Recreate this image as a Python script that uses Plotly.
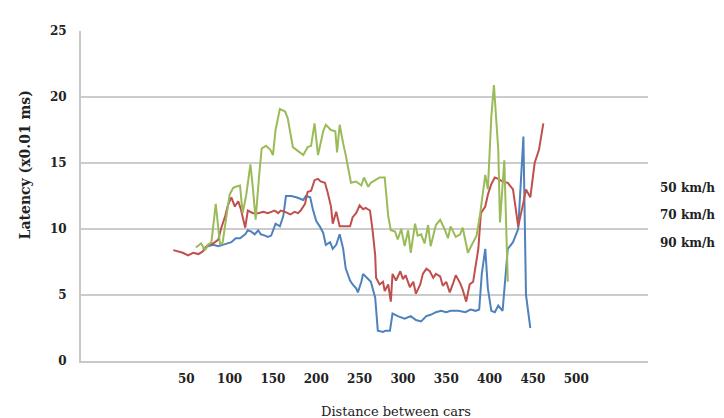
import plotly.graph_objects as go

# ---- data ----
x_ticks = [50, 100, 150, 200, 250, 300, 350, 400, 450, 500]
y_ticks = [0, 5, 10, 15, 20, 25]
legend_labels = ["50 km/h", "70 km/h", "90 km/h"]

blue_x = [69, 75, 81, 87, 92, 98, 102, 107, 112, 118, 121, 125, 129, 133, 136, 141, 144, 148, 153, 158,
          162, 165, 171, 177, 181, 185, 188, 193, 196, 200, 204, 208, 211, 216, 219, 223, 227, 231, 234,
          239, 242, 246, 248, 252, 254, 260, 263, 268, 271, 277, 280, 285, 288, 294, 298, 302, 309, 315,
          321, 327, 332, 338, 344, 350, 355, 364, 372, 378, 384, 388, 391, 395, 398, 402, 406, 410, 415,
          421, 427, 433, 439, 442, 447]
blue_y = [8.5, 8.7, 8.8, 8.7, 8.8, 8.9, 9.0, 9.3, 9.3, 9.6, 9.9, 9.8, 9.6, 9.9, 9.6, 9.5, 9.4, 9.5, 10.4, 10.2,
          11.0, 12.5, 12.5, 12.4, 12.3, 12.2, 12.5, 12.4, 11.5, 10.6, 10.2, 9.7, 8.8, 9.0, 8.5, 8.8, 9.6, 8.5, 7.0,
          6.1, 5.8, 5.5, 5.2, 6.0, 6.6, 6.2, 6.0, 4.8, 2.3, 2.2, 2.3, 2.3, 3.6, 3.4, 3.3, 3.2, 3.4, 3.1,
          3.0, 3.4, 3.5, 3.7, 3.8, 3.7, 3.8, 3.8, 3.7, 3.9, 3.8, 3.9, 6.6, 8.5, 5.5, 3.8, 3.7, 4.2, 3.8,
          8.5, 9.0, 10.0, 17.0, 5.0, 2.5]

red_x = [35, 40, 46, 52, 58, 64, 69, 75, 81, 87, 90, 95, 98, 102, 106, 110, 113, 118, 121, 127, 133, 139,
         144, 148, 152, 156, 159, 164, 170, 175, 179, 182, 187, 190, 194, 198, 202, 205, 210, 213, 217, 219,
         223, 227, 233, 239, 242, 246, 250, 254, 257, 262, 265, 268, 269, 273, 277, 279, 283, 286, 288, 292,
         297, 300, 303, 308, 312, 315, 320, 323, 327, 331, 335, 338, 343, 346, 350, 354, 358, 361, 366, 369,
         373, 377, 381, 383, 387, 390, 395, 398, 402, 406, 410, 415, 421, 427, 433, 439, 442, 447, 452, 457, 462]
red_y = [8.4, 8.3, 8.2, 8.0, 8.2, 8.1, 8.3, 8.8, 8.9, 9.2, 10.0, 11.0, 11.8, 12.4, 11.7, 12.1, 11.5, 10.1, 11.4, 11.2, 11.2, 11.3,
         11.2, 11.3, 11.4, 11.2, 11.4, 11.3, 11.1, 11.3, 11.2, 11.4, 11.9, 12.8, 12.9, 13.7, 13.8, 13.6, 13.5, 12.8, 11.7, 10.4,
         11.3, 10.2, 10.2, 10.2, 10.9, 11.2, 11.8, 11.5, 11.6, 11.4, 9.9, 8.0, 6.3, 5.8, 6.0, 5.3, 5.8, 4.5, 6.6, 6.1,
         6.8, 6.2, 6.5, 5.6, 6.0, 5.1, 5.8, 6.6, 7.0, 6.8, 6.3, 6.6, 6.4, 5.7, 6.0, 5.2, 5.9, 6.5, 5.9, 5.4,
         4.5, 5.8, 6.0, 6.8, 8.5, 11.2, 11.7, 12.6, 13.4, 13.9, 13.8, 13.6, 13.5, 13.0, 10.2, 12.0, 13.0, 12.4, 15.0, 16.0, 18.0]

green_x = [61, 67, 72, 75, 79, 84, 89, 92, 96, 100, 104, 107, 112, 115, 119, 124, 127, 130, 134, 137, 142, 147,
           150, 153, 158, 164, 167, 173, 179, 185, 190, 194, 198, 202, 208, 211, 217, 222, 224, 227, 231, 234,
           240, 246, 252, 255, 260, 263, 268, 273, 279, 283, 286, 291, 294, 298, 302, 306, 309, 314, 317, 321,
           325, 329, 332, 338, 343, 348, 352, 355, 361, 366, 369, 375, 381, 385, 389, 395, 398, 402, 405, 410,
           412, 417, 421]
green_y = [8.6, 8.9, 8.4, 8.8, 9.0, 11.9, 8.8, 9.0, 10.8, 12.6, 13.1, 13.2, 13.3, 11.2, 12.5, 14.9, 13.0, 10.7, 14.0, 16.1, 16.3, 16.0,
           15.6, 17.5, 19.1, 18.9, 18.4, 16.2, 15.9, 15.6, 16.2, 16.3, 18.0, 15.6, 17.4, 17.9, 17.5, 17.4, 15.8, 17.9, 16.5, 15.6,
           13.5, 13.6, 13.3, 13.9, 13.2, 13.5, 13.7, 13.9, 13.9, 11.0, 9.9, 9.8, 9.2, 10.0, 8.7, 9.9, 8.2, 10.4, 9.5, 9.6,
           8.9, 10.3, 8.7, 10.3, 10.7, 10.0, 9.3, 10.2, 9.4, 9.6, 10.1, 8.2, 9.0, 9.5, 11.1, 14.1, 13.0, 18.5, 20.9, 16.0,
           10.5, 15.2, 6.0]

# ---- figure ----
FONT = "DejaVu Serif"
fig = go.Figure()
fig.add_trace(go.Scatter(x=blue_x, y=blue_y, mode="lines", line=dict(color="#4F81BD", width=2),
                         name=legend_labels[0], showlegend=False))
fig.add_trace(go.Scatter(x=red_x, y=red_y, mode="lines", line=dict(color="#C0504D", width=2),
                         name=legend_labels[1], showlegend=False))
fig.add_trace(go.Scatter(x=green_x, y=green_y, mode="lines", line=dict(color="#9BBB59", width=2),
                         name=legend_labels[2], showlegend=False))

fig.update_layout(
    width=724, height=418,
    margin=dict(l=73, r=84, t=23, b=65),
    paper_bgcolor="white", plot_bgcolor="white",
    font=dict(family=FONT, size=12, color="#222222"),
    showlegend=False,
)
fig.update_xaxes(
    range=[-71.5, 582.8], tickmode="array", tickvals=x_ticks,
    ticktext=[f"<b>{v}</b>" for v in x_ticks],
    showgrid=False, zeroline=False, showline=True, linecolor="#c8c8c8", linewidth=2,
    ticks="", ticklabelstandoff=6, tickfont=dict(family=FONT, size=12, color="#222222"),
)
fig.update_yaxes(
    range=[0, 25], tickmode="array", tickvals=y_ticks,
    ticktext=[f"<b>{v}</b>" for v in y_ticks],
    showgrid=True, gridcolor="#cccccc", gridwidth=2, zeroline=False,
    showline=True, linecolor="#c8c8c8", linewidth=2,
    ticks="", ticklabelstandoff=10, tickfont=dict(family=FONT, size=12, color="#222222"),
)

annotations = [
    dict(text="Distance between cars", xref="paper", yref="paper", x=0.556, y=-0.152,
         xanchor="center", yanchor="middle", showarrow=False,
         font=dict(family=FONT, size=13, color="#222222")),
    dict(text="<b>Latency (x0.01 ms)</b>", xref="paper", yref="paper", x=-0.098, y=0.594,
         xanchor="center", yanchor="middle", textangle=-90, showarrow=False,
         font=dict(family=FONT, size=14, color="#222222")),
]
for lab, yy in zip(legend_labels, [0.524, 0.442, 0.358]):
    annotations.append(dict(text=f"<b>{lab}</b>", xref="paper", yref="paper", x=1.0, y=yy,
                            xanchor="left", yanchor="middle", showarrow=False, xshift=10,
                            font=dict(family=FONT, size=12, color="#222222")))
fig.update_layout(annotations=annotations)

fig.write_html("out.html")
